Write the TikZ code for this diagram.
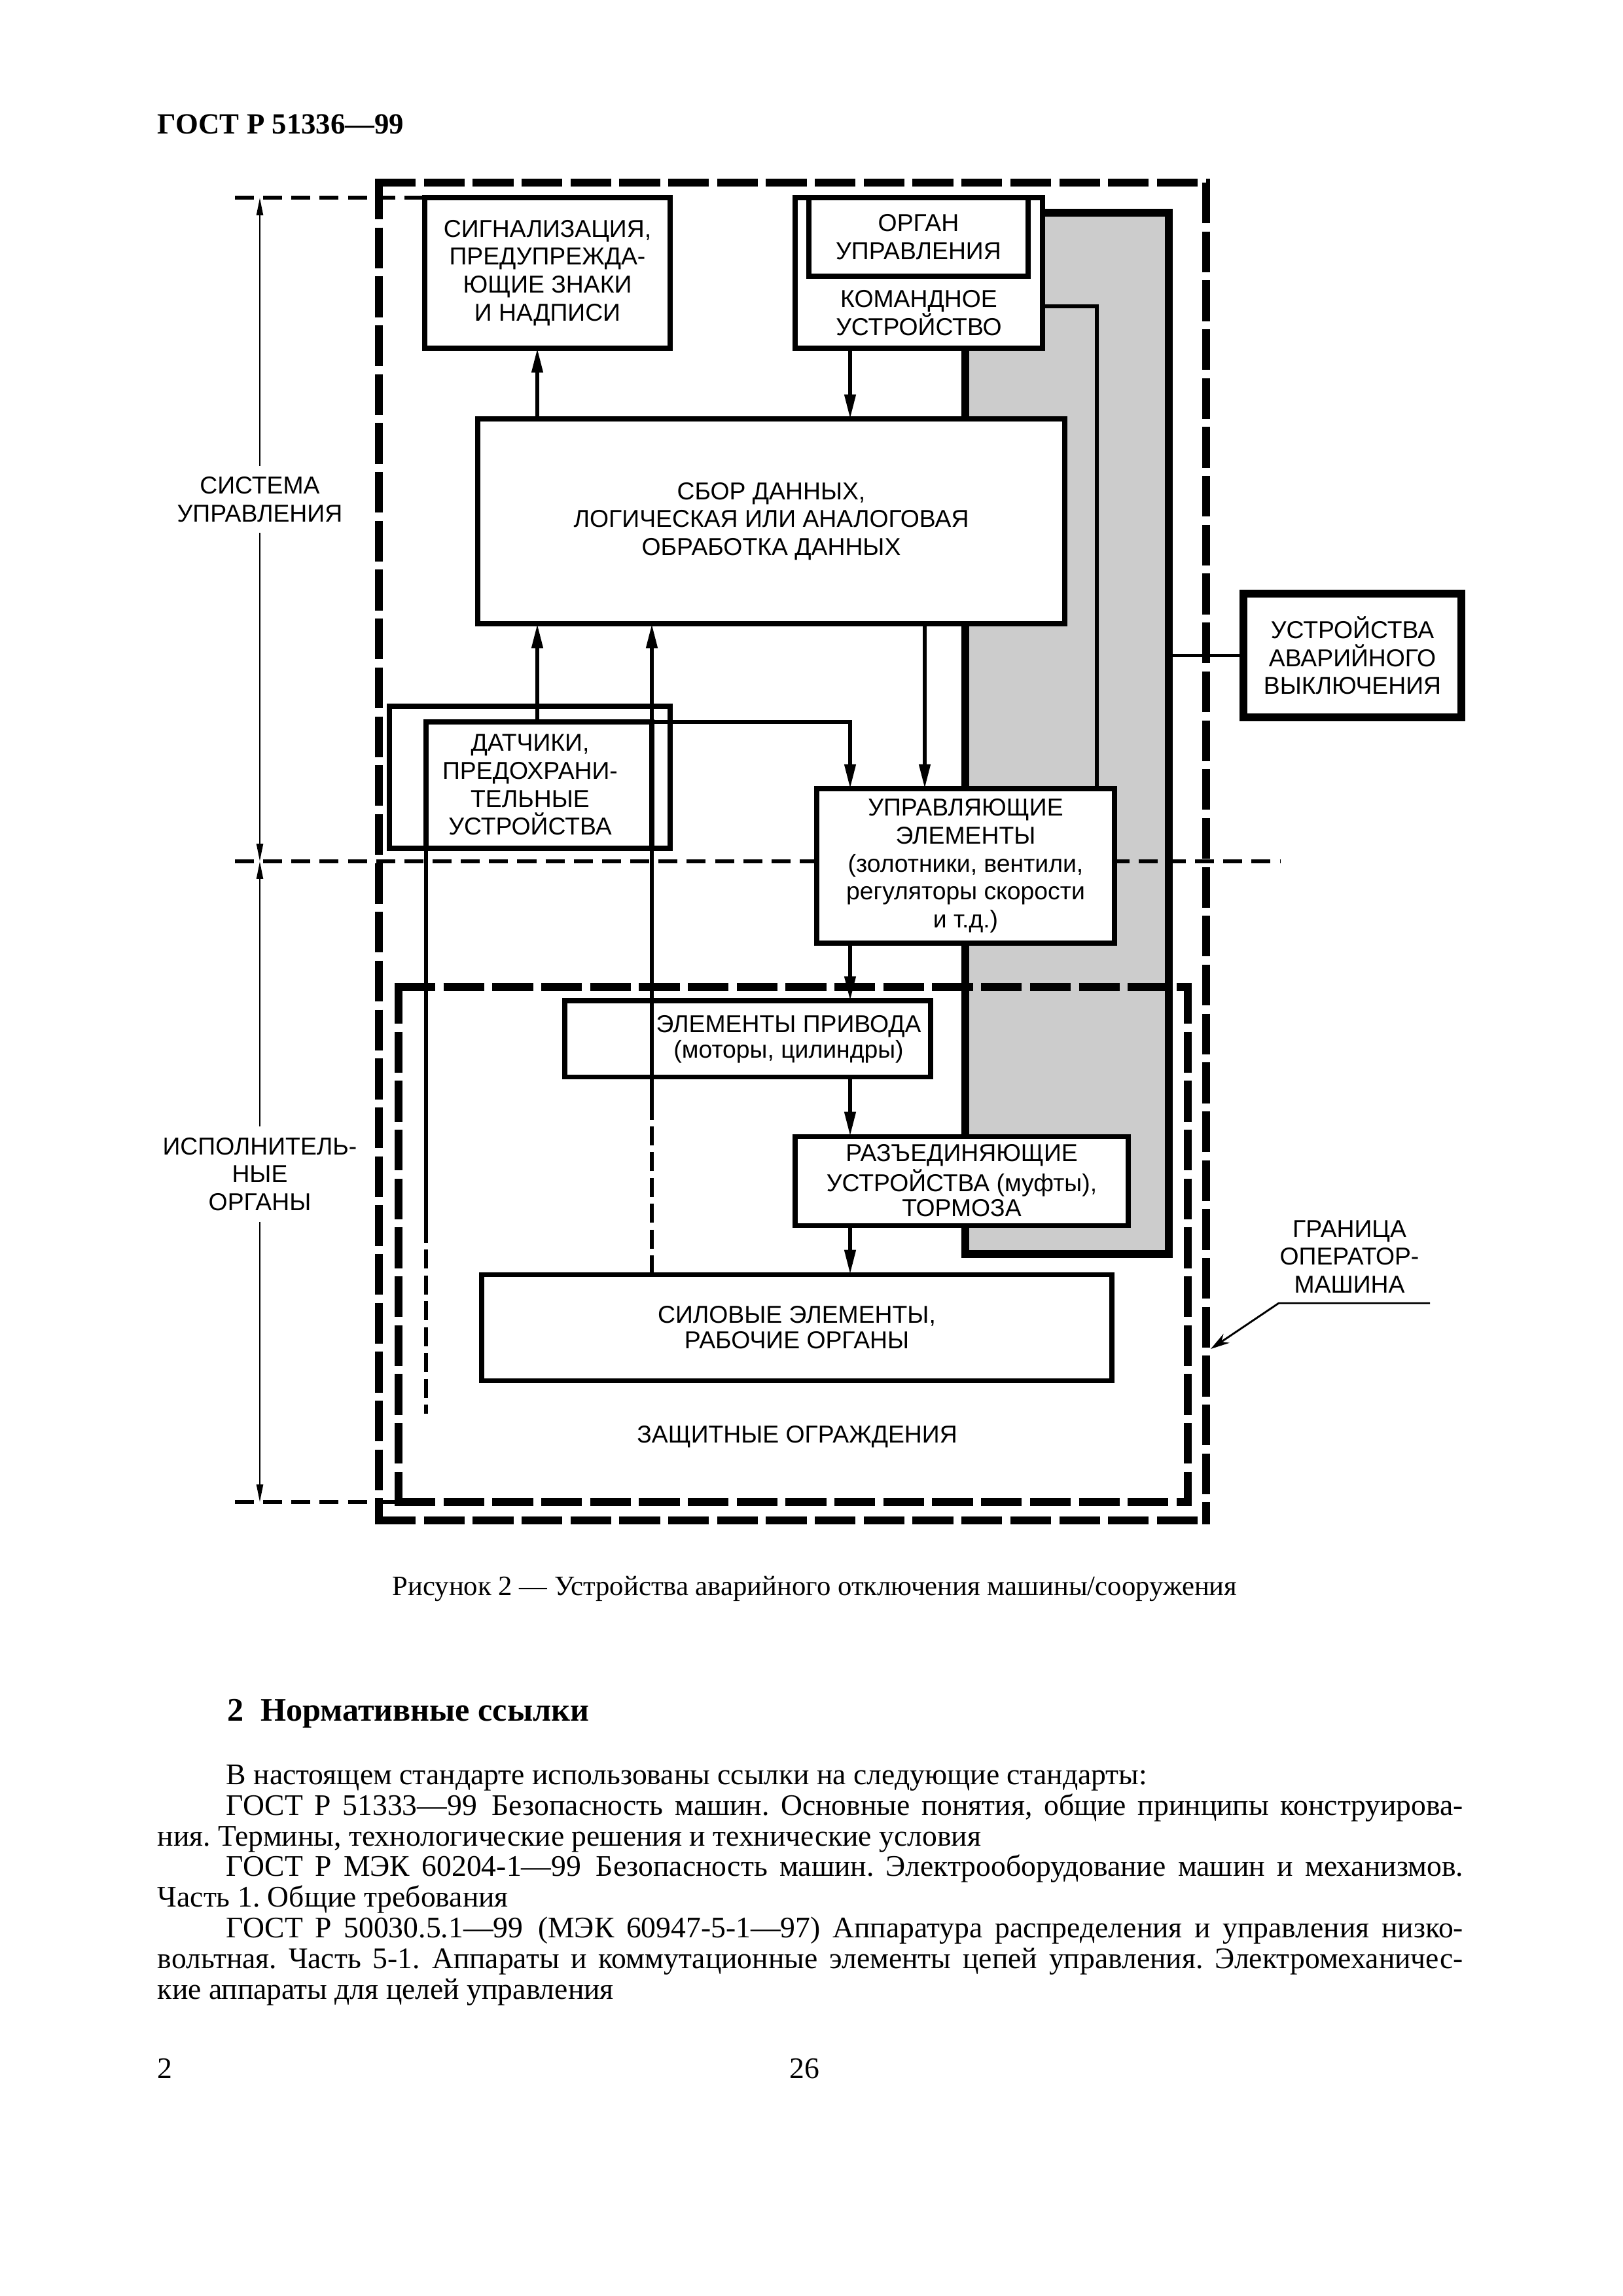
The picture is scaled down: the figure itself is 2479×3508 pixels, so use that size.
\documentclass[tikz,border=0pt]{standalone}
\usepackage{fontspec}
\setmainfont{Liberation Serif}
\newfontfamily\diagfont{Liberation Sans}
\usetikzlibrary{arrows.meta,fit}
\frenchspacing

\begin{document}
\begin{tikzpicture}[x=0.084712mm, y=-0.084712mm,
	box/.style={draw, line width=1.7pt, fill=white, inner sep=0pt, outer sep=0pt},
	lbl/.style={inner sep=0pt, outer sep=0pt, align=center, font=\diagfont\fontsize{9}{10.3}\selectfont},
	tight/.style={font=\diagfont\fontsize{9}{9.3}\selectfont},
	arr/.style={line width=1.35pt, -{Triangle[length=9pt,width=4pt]}},
	wire/.style={line width=1.35pt},
	dimarr/.style={line width=0.6pt, -{Triangle[length=6.5pt,width=2.4pt]}},
	fence/.style={line width=3.1pt, dash pattern=on 15pt off 3pt},
	sep/.style={line width=1.4pt, dash pattern=on 7pt off 3.4pt},
	hidden/.style={line width=1.35pt, dash pattern=on 7pt off 2.5pt},
	txt/.style={inner sep=0pt, anchor=base west, font=\fontsize{11}{13}\selectfont}]

	\fill[white] (0,0) rectangle (2479,3508);
	\useasboundingbox (0,0) rectangle (2479,3508);

	\node[txt, font=\bfseries\fontsize{10.8}{13}\selectfont] (gost) at (240,204) {ГОСТ Р 51336—99};

	\node[draw, line width=2.9pt, fill=black!20, inner sep=0pt, outer sep=0pt, fit={(1475,325) (1786,1916)}] (band) {};

	\draw[fence] (573,279) -- (1849,279) (1843,279) -- (1843,2329) (573,2323) -- (1849,2323) (579,273) -- (579,2329);
	\draw[fence] (603,1508) -- (1821,1508) (1815,1502) -- (1815,2301) (603,2295) -- (1821,2295) (609,1502) -- (609,2301);

	\draw[sep] (359,302) -- (649,302);
	\draw[sep] (359,1316) -- (1957,1316);
	\draw[sep] (359,2295) -- (609,2295);

	\node[box, fit={(649,302) (1024,532)}] (signal) {};
	\node[box, fit={(1215,302) (1593,532)}] (cmd) {};
	\node[box, fit={(1236,302) (1571,422)}] (organ) {};
	\node[box, fit={(730,640) (1627,953)}] (collect) {};
	\node[box, fit={(595,1079) (1024,1296)}] (sensorframe) {};
	\node[box, fit={(651,1103) (996,1296)}] (sensor) {};
	\node[box, fit={(1248,1205) (1703,1441)}] (ctrl) {};
	\node[box, fit={(863,1529) (1422,1645)}] (drive) {};
	\node[box, fit={(1215,1736) (1724,1872)}] (clutch) {};
	\node[box, fit={(736,1947) (1699,2109)}] (power) {};
	\node[box, line width=3.1pt, fit={(1900,907) (2233,1096)}] (estop) {};

	\node[lbl] (signaltext) at (signal) {СИГНАЛИЗАЦИЯ,\\ПРЕДУПРЕЖДА-\\ЮЩИЕ ЗНАКИ\\И НАДПИСИ};
	\node[lbl] (organtext) at (organ) {ОРГАН\\УПРАВЛЕНИЯ};
	\node[lbl] (cmdtext) at (1404,478) {КОМАНДНОЕ\\УСТРОЙСТВО};
	\node[lbl] (collecttext) at (collect) {СБОР ДАННЫХ,\\ЛОГИЧЕСКАЯ ИЛИ АНАЛОГОВАЯ\\ОБРАБОТКА ДАННЫХ};
	\node[lbl] (sensortext) at (810,1199) {ДАТЧИКИ,\\ПРЕДОХРАНИ-\\ТЕЛЬНЫЕ\\УСТРОЙСТВА};
	\node[lbl] (ctrltext) at (ctrl) {УПРАВЛЯЮЩИЕ\\ЭЛЕМЕНТЫ\\(золотники, вентили,\\регуляторы скорости\\и т.д.)};
	\node[lbl, tight] (drivetext) at (1205,1588) {ЭЛЕМЕНТЫ ПРИВОДА\\(моторы, цилиндры)};
	\node[lbl, tight] (clutchtext) at (clutch) {РАЗЪЕДИНЯЮЩИЕ\\УСТРОЙСТВА (муфты),\\ТОРМОЗА};
	\node[lbl, tight] (powertext) at (power) {СИЛОВЫЕ ЭЛЕМЕНТЫ,\\РАБОЧИЕ ОРГАНЫ};
	\node[lbl] (estoptext) at (estop) {УСТРОЙСТВА\\АВАРИЙНОГО\\ВЫКЛЮЧЕНИЯ};

	\node[lbl, inner sep=4pt] (syslabel) at (397,763) {СИСТЕМА\\УПРАВЛЕНИЯ};
	\node[lbl, inner sep=4pt] (actlabel) at (397,1794) {ИСПОЛНИТЕЛЬ-\\НЫЕ\\ОРГАНЫ};
	\node[lbl] (guardlabel) at (1218,2195) {ЗАЩИТНЫЕ ОГРАЖДЕНИЯ};
	\node[lbl] (borderlabel) at (2062,1920) {ГРАНИЦА\\ОПЕРАТОР-\\МАШИНА};

	\coordinate (spine) at (1299,0);
	\coordinate (upx) at (821,0);
	\coordinate (dropx) at (1413,0);
	\coordinate (tap) at (1676,468);
	\coordinate (fbsplit) at (996,1693);
	\coordinate (probesplit) at (651,1870);
	\coordinate (probeend) at (651,2160);
	\coordinate (dimtop) at (397,302);
	\coordinate (dimmid) at (397,1316);
	\coordinate (dimbot) at (397,2295);
	\coordinate (leadstart) at (2185,1991);
	\coordinate (leadbend) at (1954,1991);
	\coordinate (leadtip) at (1850,2061);

	\draw[arr] (collect.north -| upx) -- (signal.south -| upx);
	\draw[arr] (cmd.south -| spine) -- (collect.north -| spine);
	\draw[arr] (sensor.north -| upx) -- (collect.south -| upx);
	\draw[hidden] (power.north -| fbsplit) -- (fbsplit);
	\draw[arr] (fbsplit) -- (collect.south -| fbsplit);
	\draw[wire] (sensor.north west) -- (probesplit);
	\draw[hidden] (probesplit) -- (probeend);
	\draw[arr] (sensor.north east) -| (ctrl.north -| spine);
	\draw[arr] (collect.south -| dropx) -- (ctrl.north -| dropx);
	\draw[arr] (ctrl.south -| spine) -- (drive.north -| spine);
	\draw[arr] (drive.south -| spine) -- (clutch.north -| spine);
	\draw[arr] (clutch.south -| spine) -- (power.north -| spine);
	\draw[wire] (cmd.east |- tap) -| (ctrl.north -| tap);
	\draw[wire] (band.east |- estop.west) -- (estop.west);

	\draw[dimarr] (syslabel.north) -- (dimtop);
	\draw[dimarr] (syslabel.south) -- (dimmid);
	\draw[dimarr] (actlabel.north) -- (dimmid);
	\draw[dimarr] (actlabel.south) -- (dimbot);
	\draw[line width=0.7pt, -{Stealth[length=7pt,width=4pt]}] (leadstart) -- (leadbend) -- (leadtip);

	\node[inner sep=0pt, anchor=base, font=\fontsize{10.3}{12}\selectfont] (caption) at (1245,2437) {Рисунок 2 — Устройства аварийного отключения машины/сооружения};
	\node[txt, font=\bfseries\fontsize{12.1}{14}\selectfont] (heading) at (347,2629) {2\enspace Нормативные ссылки};
	\node[txt] (ref0) at (345,2726) {В настоящем стандарте использованы ссылки на следующие стандарты:};
	\node[txt] (ref1) at (345,2773) {\makebox[455.6pt][s]{ГОСТ Р 51333—99\enspace Безопасность машин. Основные понятия, общие принципы конструирова-}};
	\node[txt] (ref2) at (240,2820) {ния. Термины, технологические решения и технические условия};
	\node[txt] (ref3) at (345,2866) {\makebox[455.6pt][s]{ГОСТ Р МЭК 60204-1—99\enspace Безопасность машин. Электрооборудование машин и механизмов.}};
	\node[txt] (ref4) at (240,2913) {Часть 1. Общие требования};
	\node[txt] (ref5) at (345,2960) {\makebox[455.6pt][s]{ГОСТ Р 50030.5.1—99\enspace (МЭК 60947-5-1—97) Аппаратура распределения и управления низко-}};
	\node[txt] (ref6) at (240,3007) {\makebox[480.8pt][s]{вольтная. Часть 5-1. Аппараты и коммутационные элементы цепей управления. Электромеханичес-}};
	\node[txt] (ref7) at (240,3054) {кие аппараты для целей управления};
	\node[txt] (folio) at (240,3175) {2};
	\node[inner sep=0pt, anchor=base, font=\fontsize{11}{13}\selectfont] (pageno) at (1229,3175) {26};

\end{tikzpicture}
\end{document}
